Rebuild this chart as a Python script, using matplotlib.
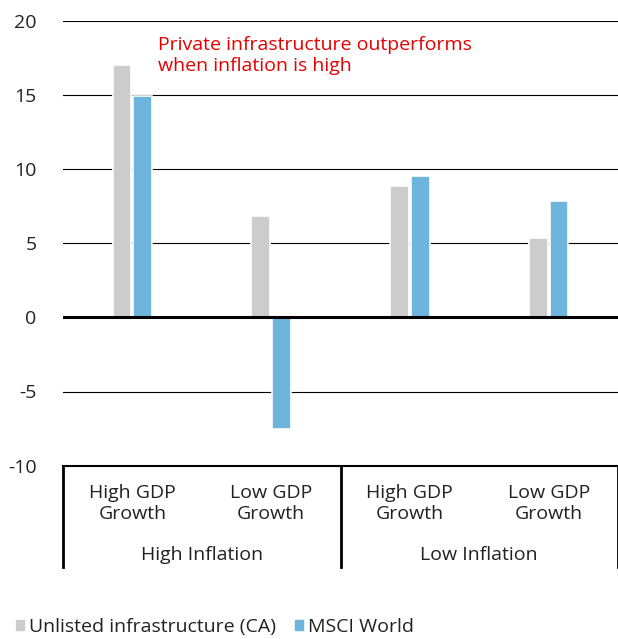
import numpy as np
import matplotlib
matplotlib.use('Agg')
import matplotlib.pyplot as plt
from matplotlib.patches import Patch

# ====== data =================================
sub_labels = ['High GDP\nGrowth', 'Low GDP\nGrowth', 'High GDP\nGrowth', 'Low GDP\nGrowth']
group_labels = ['High Inflation', 'Low Inflation']
unlisted = [17.0, 6.8, 8.85, 5.35]
msci = [14.9, -7.55, 9.55, 7.85]
series_names = ['Unlisted infrastructure (CA)', 'MSCI World']
note = 'Private infrastructure outperforms\nwhen inflation is high'

GRAY = '#cccccc'
BLUE = '#6db5dd'
RED = '#e60000'

plt.rcParams['font.family'] = ['Open Sans', 'DejaVu Sans']

fig = plt.figure(figsize=(6.18, 6.39), dpi=100)
ax = fig.add_axes([63/618, 1-465.7/639, 1-63/618, (465.7-20.5)/639])

x = np.arange(len(unlisted))
w = 0.135
ax.bar(x - w/2 - 0.007, unlisted, w, color=GRAY, edgecolor='white', linewidth=1.2, zorder=3)
ax.bar(x + w/2 + 0.007, msci, w, color=BLUE, edgecolor='white', linewidth=1.2, zorder=3)

ax.set_xlim(-0.5, 3.5)
ax.set_ylim(-10, 20)
ax.set_yticks([-10, -5, 0, 5, 10, 15, 20])
ax.set_yticklabels(['-10', '-5', '0', '5', '10', '15', '20'])
ax.set_xticks([])
for t in [5, 10, 15, 20, -5]:
    ax.axhline(t, color='black', linewidth=0.8, zorder=1)
ax.axhline(0, color='black', linewidth=2.2, zorder=4)
for s in ['top', 'right', 'left']:
    ax.spines[s].set_visible(False)
ax.spines['bottom'].set_linewidth(1.5)
ax.tick_params(axis='y', length=0, pad=19, labelsize=14, colors='#222222')

# category box below the axis
trans = ax.get_xaxis_transform()
for xv in [-0.5, 1.5, 3.5]:
    ax.plot([xv, xv], [0, -0.228], transform=trans, color='black', linewidth=2, clip_on=False)
for i, lab in enumerate(sub_labels):
    ax.text(i, -0.085, lab, transform=trans, ha='center', va='center', fontsize=14,
            color='#222222', linespacing=1.25)
for i, lab in enumerate(group_labels):
    ax.text(0.5 + 2*i, -0.2, lab, transform=trans, ha='center', va='center', fontsize=14,
            color='#222222')

ax.text(0.185, 17.65, note, color=RED, fontsize=14, ha='left', va='center', linespacing=1.2)

handles = [Patch(color=GRAY), Patch(color=BLUE)]
fig.legend(handles, series_names, loc='center left', bbox_to_anchor=(-0.002, 1-627/639),
           frameon=False, fontsize=14, handlelength=0.4, handleheight=0.4,
           handletextpad=0.25, columnspacing=1.0, ncol=2, labelcolor='#222222')

plt.savefig('out.png', dpi=100)
